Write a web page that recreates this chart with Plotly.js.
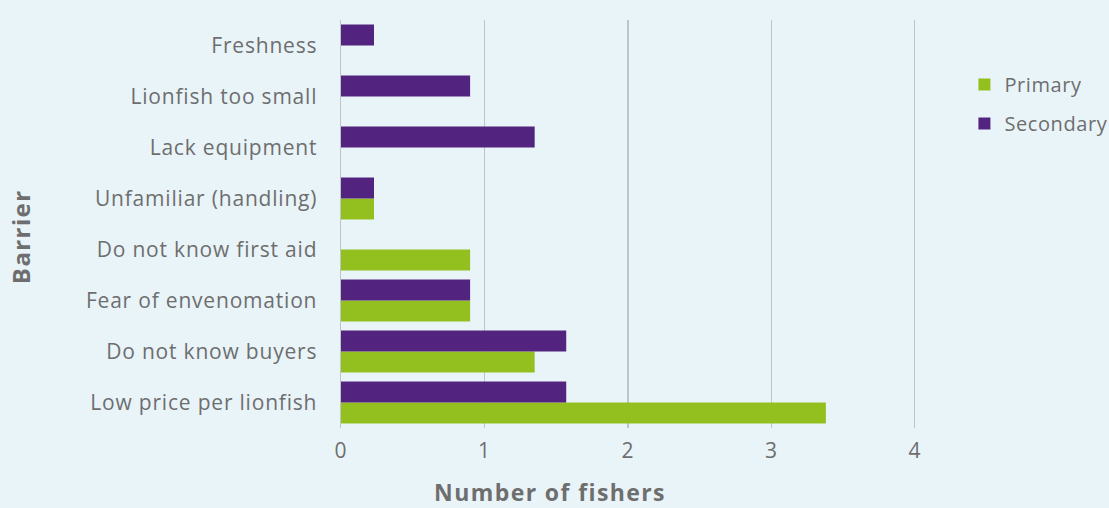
<!DOCTYPE html>
<html>
<head>
<meta charset="utf-8">
<script src="https://cdn.plot.ly/plotly-3.0.1.min.js"></script>
<style>
html,body{margin:0;padding:0;background:#e9f4f9;}
#chart{width:1109px;height:508px;}
#chart .ytick text, #chart .xtick text {letter-spacing:0.8px;}
#chart .legendtext {letter-spacing:0.6px;}
#chart .annotation-text {letter-spacing:1.4px;}
</style>
</head>
<body>
<div id="chart"></div>
<script>
const categories = ["Low price per lionfish","Do not know buyers","Fear of envenomation","Do not know first aid","Unfamiliar (handling)","Lack equipment","Lionfish too small","Freshness"];
const primaryValues = [3.38, 1.35, 0.9, 0.9, 0.23, 0, 0, 0];
const secondaryValues = [1.57, 1.57, 0.9, 0, 0.23, 1.35, 0.9, 0.23];
const xTicks = [0,1,2,3,4];
const xTitle = "Number of fishers";
const yTitle = "Barrier";

const textColor = "#6e6e6e";
const font = "Open Sans, sans-serif";

const traces = [
  {type:"bar", orientation:"h", name:"Primary", legendgroup:"a", y:categories, x:primaryValues, marker:{color:"#93c01f"}, hoverinfo:"none"},
  {type:"bar", orientation:"h", name:"Secondary", legendgroup:"b", y:categories, x:secondaryValues, marker:{color:"#522480"}, hoverinfo:"none"}
];

const layout = {
  width:1109, height:508,
  paper_bgcolor:"#e9f4f9", plot_bgcolor:"#e9f4f9",
  margin:{l:341, r:187, t:20, b:80, autoexpand:false},
  barmode:"group", bargap:0.18, bargroupgap:0,
  font:{family:font, color:textColor, size:21},
  xaxis:{range:[0,4.05], tickvals:xTicks, showgrid:true, gridcolor:"#c0c4c6", gridwidth:1.2,
         zeroline:false, showline:false, tickfont:{size:21, color:textColor}, ticklabelstandoff:8},
  yaxis:{type:"category", categoryorder:"array", categoryarray:categories, showgrid:false,
         showline:true, linecolor:"#c0c4c6", linewidth:1.5, zeroline:false,
         tickfont:{size:21, color:textColor}, ticklabelstandoff:18},
  annotations:[
    {text:"<b>"+xTitle+"</b>", xref:"paper", yref:"paper", x:0.36, y:-0.157, xanchor:"center", yanchor:"middle",
     showarrow:false, font:{size:23, color:textColor}},
    {text:"<b>"+yTitle+"</b>", xref:"paper", yref:"paper", x:-0.5525, y:0.47, xanchor:"center", yanchor:"middle",
     textangle:-90, showarrow:false, font:{size:24, color:textColor}}
  ],
  legend:{x:1.073, xanchor:"left", y:0.89, yanchor:"top", traceorder:"grouped",
          font:{size:20, color:textColor}, bgcolor:"rgba(0,0,0,0)", tracegroupgap:10, itemwidth:30},
  showlegend:true
};

Plotly.newPlot("chart", traces, layout, {displayModeBar:false, staticPlot:true});
</script>
</body>
</html>
